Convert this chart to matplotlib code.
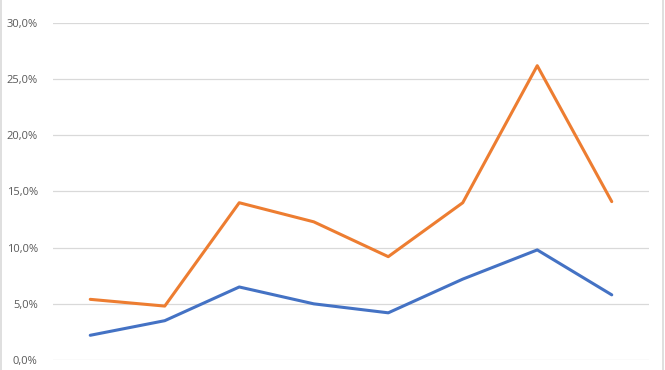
import matplotlib
matplotlib.use("Agg")
import matplotlib.pyplot as plt
from matplotlib.patches import Rectangle
from matplotlib.ticker import FuncFormatter

categories = ["1", "2", "3", "4", "5", "6", "7", "8"]
series_blue = [0.022, 0.035, 0.065, 0.050, 0.042, 0.072, 0.098, 0.058]
series_orange = [0.054, 0.048, 0.140, 0.123, 0.092, 0.140, 0.262, 0.141]
yticks = [0.0, 0.05, 0.10, 0.15, 0.20, 0.25, 0.30]

W, H = 665, 370
fig = plt.figure(figsize=(W / 100, H / 100), dpi=100)
ax = fig.add_axes([53 / W, 1 - 360 / H, (649 - 53) / W, (360 - 23) / H])

x = list(range(len(categories)))
ax.plot(x, series_blue, color="#4472C4", linewidth=2.2, solid_capstyle="round", zorder=3)
ax.plot(x, series_orange, color="#ED7D31", linewidth=2.2, solid_capstyle="round", zorder=3)

ax.set_xlim(-0.5, len(categories) - 0.5)
ax.set_ylim(0, 0.30)
ax.set_yticks(yticks)
ax.yaxis.set_major_formatter(FuncFormatter(lambda v, p: f"{v*100:.1f}%".replace(".", ",")))
ax.set_xticks([])
ax.grid(axis="y", color="#D9D9D9", linewidth=0.9)
ax.set_axisbelow(True)
for s in ax.spines.values():
    s.set_visible(False)
ax.tick_params(axis="y", length=0, pad=11, labelsize=8, labelcolor="#595959")
for lab in ax.get_yticklabels():
    lab.set_fontfamily("Open Sans")

fig.patches.append(Rectangle((0.5 / W, -0.1), (663 - 0.5) / W, 1.2, transform=fig.transFigure,
                             fill=False, edgecolor="#D9D9D9", linewidth=1.2))

fig.savefig("out.png", dpi=100)
